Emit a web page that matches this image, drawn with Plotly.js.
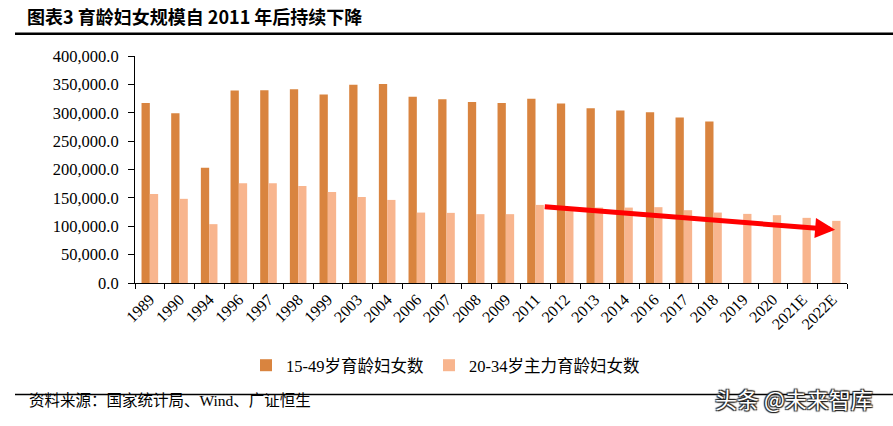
<!DOCTYPE html>
<html>
<head>
<meta charset="utf-8">
<script src="https://cdn.plot.ly/plotly-3.0.1.min.js"></script>
<style>
  html, body { margin: 0; padding: 0; background: #fff; }
  #chart { width: 893px; height: 426px; }
</style>
</head>
<body>
<div id="chart"></div>
<script>
// Years (with 2021/2022 estimates)
const years = ['1989','1990','1994','1996','1997','1998','1999','2003','2004','2006','2007','2008','2009','2011','2012','2013','2014','2016','2017','2018','2019','2020','2021E','2022E'];

// Women aged 15-49 (no figures after 2018)
const women15to49 = [317000, 299000, 203000, 339000, 339500, 341500, 332000, 349500, 350800, 328000, 324000, 318800, 317000, 324500, 316300, 308000, 304000, 301000, 291700, 284700, null, null, null, null];

// Core childbearing-age women aged 20-34
const women20to34 = [157000, 148300, 103700, 175700, 175700, 171000, 160500, 151700, 146400, 124100, 123600, 121300, 121300, 137600, 133000, 132900, 132900, 133600, 128300, 124100, 121800, 119500, 114800, 109500];

const W = 893, H = 426;
const L = 135, R = 847, T = 55.7, B = 283.3;
const px2x = p => (p - L) / (R - L);
const px2y = p => (B - p) / (B - T);

const serif = '"Liberation Serif", "Times New Roman", "Noto Sans CJK SC", serif';
const cjk = '"Noto Sans CJK SC", "Liberation Serif", sans-serif';

const traces = [
  {
    type: 'bar', name: '15-49岁育龄妇女数', x: years, y: women15to49,
    marker: { color: '#D9843F' }, hoverinfo: 'skip'
  },
  {
    type: 'bar', name: '20-34岁主力育龄妇女数', x: years, y: women20to34,
    marker: { color: '#F8B58E' }, hoverinfo: 'skip'
  }
];

const layout = {
  width: W, height: H,
  margin: { l: L, r: W - R, t: T, b: H - B },
  paper_bgcolor: '#fff', plot_bgcolor: '#fff',
  barmode: 'group', bargap: 0.44, bargroupgap: 0,
  showlegend: true,
  legend: {
    orientation: 'h', xref: 'paper', yref: 'paper',
    x: px2x(246), y: px2y(366), xanchor: 'left', yanchor: 'middle',
    font: { family: serif, size: 16.5, color: '#000' },
    itemwidth: 30, tracegroupgap: 0
  },
  title: {
    text: '<b>图表3 育龄妇女规模自 2011 年后持续下降</b>',
    xref: 'container', yref: 'container',
    x: 27 / W, y: 1 - 18 / H, xanchor: 'left', yanchor: 'middle',
    font: { family: cjk, size: 18, color: '#000' }
  },
  xaxis: {
    type: 'category', range: [-0.5, years.length - 0.5],
    showline: true, linecolor: '#000', linewidth: 1,
    ticks: 'outside', tickson: 'boundaries', ticklen: 5, tickcolor: '#000',
    tickangle: -45, showgrid: false, zeroline: false,
    tickfont: { family: serif, size: 16, color: '#000' }
  },
  yaxis: {
    range: [0, 400000], dtick: 50000, tickformat: ',.1f',
    showline: true, linecolor: '#000', linewidth: 1,
    ticks: 'outside', ticklen: 6, tickcolor: '#000',
    showgrid: false, zeroline: false, ticklabelstandoff: 6,
    tickfont: { family: serif, size: 16.5, color: '#000' }
  },
  shapes: [
    { type: 'line', xref: 'paper', yref: 'paper', x0: px2x(15), x1: px2x(893), y0: px2y(33.5), y1: px2y(33.5),
      line: { color: '#000', width: 2.5 } },
    { type: 'line', xref: 'paper', yref: 'paper', x0: px2x(15), x1: px2x(893), y0: px2y(395), y1: px2y(395),
      line: { color: '#000', width: 1.5 } }
  ],
  annotations: [
    // downward trend arrow from 2011 onwards
    { xref: 'x', yref: 'y', axref: 'x', ayref: 'y',
      x: 23.1, y: 94000, ax: 13.26, ay: 134600,
      showarrow: true, arrowhead: 2, arrowsize: 0.8, arrowwidth: 5, arrowcolor: '#FF0000',
      standoff: 0, startstandoff: 0, text: '' },
    { xref: 'paper', yref: 'paper', x: px2x(27), y: px2y(401), xanchor: 'left', yanchor: 'middle',
      showarrow: false, text: '资料来源：国家统计局、Wind、广证恒生',
      font: { family: '"Liberation Serif", "Noto Sans CJK SC", serif', size: 15.5, color: '#000' } },
    { xref: 'paper', yref: 'paper', x: px2x(713), y: px2y(399), xanchor: 'left', yanchor: 'middle',
      showarrow: false, text: '头条 @未来智库',
      font: { family: cjk, size: 22, color: '#fff', shadow: '1px 1px 1px #222, -1px -1px 1px #222, 1px -1px 1px #222, -1px 1px 1px #222' } }
  ]
};

Plotly.newPlot('chart', traces, layout, { staticPlot: true, displayModeBar: false });
</script>
</body>
</html>
